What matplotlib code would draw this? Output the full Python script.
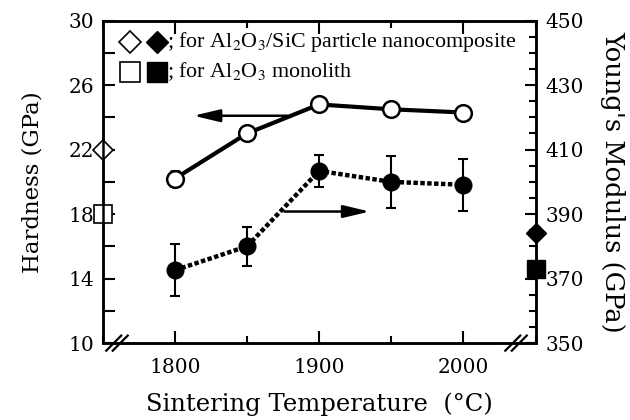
import matplotlib
matplotlib.use("Agg")
import matplotlib.pyplot as plt
from matplotlib.ticker import FixedLocator, MultipleLocator

# Sintering temperatures (deg C)
temperature = [1800, 1850, 1900, 1950, 2000]

# Al2O3/SiC nanocomposite: Vickers hardness (GPa, left axis)
hardness = [20.2, 23.0, 24.8, 24.5, 24.3]
hardness_err = [0.45, 0.0, 0.0, 0.0, 0.0]

# Al2O3/SiC nanocomposite: Young's modulus (GPa, right axis)
modulus = [372.6, 380.0, 403.4, 400.0, 399.1]
modulus_err = [8.0, 6.0, 5.0, 8.0, 8.0]

# Reference values plotted on the axis spines
nano_hardness = 22.0
mono_hardness = 18.0
nano_modulus = 384.0
mono_modulus = 373.0

hardness_ticks = [10, 14, 18, 22, 26, 30]
modulus_ticks = [350, 370, 390, 410, 430, 450]

plt.rcParams["font.family"] = "DejaVu Serif"
plt.rcParams["mathtext.fontset"] = "stix"

fig = plt.figure(figsize=(6.3, 4.2), dpi=100)
ax = fig.add_axes([0.163, 0.183, 0.687, 0.768])
ax2 = ax.twinx()

# hardness, open circles on a thick solid line
ax.errorbar(temperature, hardness, yerr=hardness_err, fmt="-o", color="black",
            lw=3, ms=12, mfc="white", mec="black", mew=1.8,
            elinewidth=1.5, capsize=3.5, capthick=1.5, zorder=3)

# modulus, filled circles on a thick dotted line
ax2.errorbar(temperature, modulus, yerr=modulus_err, fmt="o", color="black",
             ms=12, elinewidth=1.5, capsize=3.5, capthick=1.5, zorder=3)
ax2.plot(temperature, modulus, color="black", lw=3.2,
         linestyle=(0, (1.0, 0.55)), dash_capstyle="butt", zorder=2)

ax.set_xlim(1750, 2050)
ax.set_ylim(10, 30)
ax2.set_ylim(350, 450)

# spine markers for the reference materials
ax.plot([1750], [nano_hardness], marker="D", ms=10, mfc="white", mec="black",
        mew=1.2, clip_on=False, zorder=5)
ax.plot([1750], [mono_hardness], marker="s", ms=13, mfc="white", mec="black",
        mew=1.2, clip_on=False, zorder=5)
ax2.plot([2050], [nano_modulus], marker="D", ms=10, color="black",
         clip_on=False, zorder=5)
ax2.plot([2050], [mono_modulus], marker="s", ms=13, color="black",
         clip_on=False, zorder=5)

# arrows showing which axis each curve belongs to
ax.annotate("", xy=(1811, 24.1), xytext=(1880, 24.1),
            arrowprops=dict(arrowstyle="-|>,head_length=1.6,head_width=0.38",
                            color="black", lw=1.8))
ax.annotate("", xy=(1937, 18.16), xytext=(1874, 18.16),
            arrowprops=dict(arrowstyle="-|>,head_length=1.6,head_width=0.38",
                            color="black", lw=1.8))

# ticks
ax.set_xticks([1800, 1900, 2000])
ax.xaxis.set_minor_locator(MultipleLocator(50))
ax.yaxis.set_major_locator(FixedLocator(hardness_ticks))
ax.yaxis.set_minor_locator(MultipleLocator(2))
ax2.yaxis.set_major_locator(FixedLocator(modulus_ticks))
ax2.yaxis.set_minor_locator(MultipleLocator(5))

ax.tick_params(axis="both", which="both", direction="in", width=1.5,
               labelsize=14.5, top=True)
ax.tick_params(axis="x", which="major", length=9, pad=11)
ax.tick_params(axis="x", which="minor", length=5)
ax.tick_params(axis="y", which="both", length=8.5, pad=6)
ax2.tick_params(axis="y", which="both", direction="in", width=1.5,
                labelsize=14.5, pad=7)
ax2.tick_params(axis="y", which="major", length=8)
ax2.tick_params(axis="y", which="minor", length=5)

for a in (ax, ax2):
    for s in a.spines.values():
        s.set_linewidth(1.8)

ax.set_xlabel("Sintering Temperature  (°C)", fontsize=17.5, labelpad=11)
ax.set_ylabel("Hardness (GPa)", fontsize=16.5, labelpad=18)
ax2.set_ylabel("Young's Modulus (GPa)", fontsize=18.5, rotation=270,
               labelpad=30)

# axis break marks on the bottom spine
for xc in (0.033, 0.955):
    for off in (-0.0075, 0.0075):
        ax.plot([xc + off - 0.0173, xc + off + 0.0173], [-0.0234, 0.0234],
                transform=ax.transAxes, color="black", lw=1.6, clip_on=False,
                zorder=6)

# key in the upper left corner
key_rows = [
    (0.935, "D", 11, "; for Al$_2$O$_3$/SiC particle nanocomposite"),
    (0.840, "s", 14, "; for Al$_2$O$_3$ monolith"),
]
for y, m, size, label in key_rows:
    ax.plot([0.063], [y], marker=m, ms=size, mfc="white", mec="black",
            mew=1.2, transform=ax.transAxes, clip_on=False)
    ax.plot([0.125], [y], marker=m, ms=size, color="black",
            transform=ax.transAxes, clip_on=False)
    ax.text(0.148, y, label, transform=ax.transAxes, fontsize=15.8,
            family="Liberation Serif", va="center", ha="left")

fig.savefig("out.png", dpi=100)
